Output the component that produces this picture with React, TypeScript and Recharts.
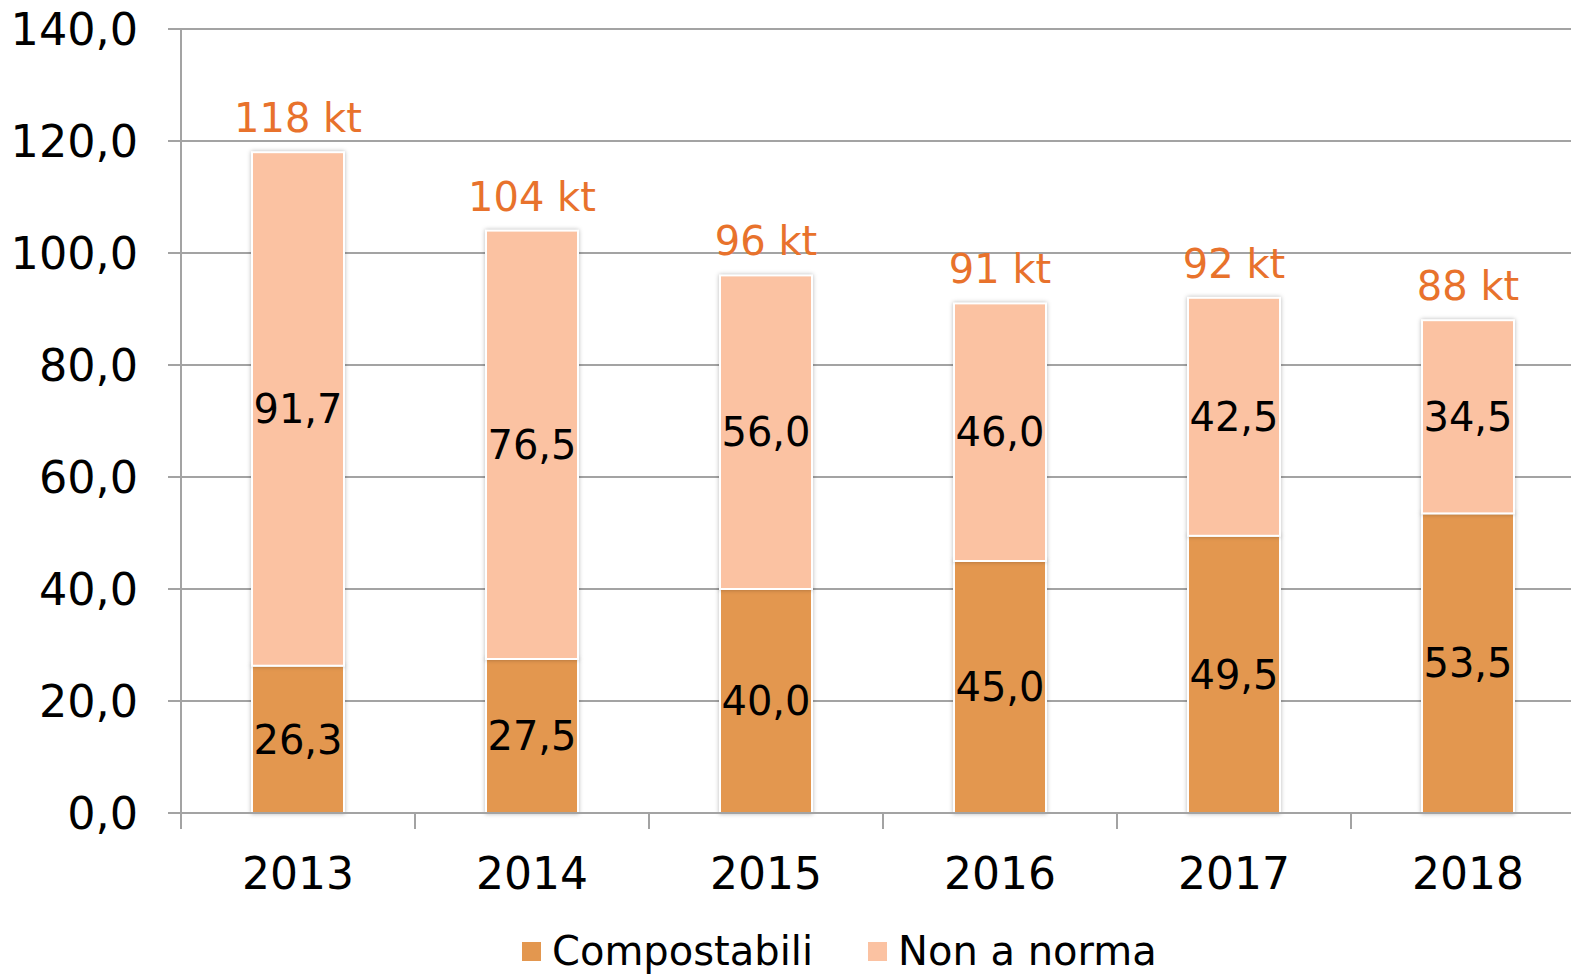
import React from 'react';
import { BarChart, Bar, XAxis, YAxis, CartesianGrid, LabelList } from 'recharts';

// quantities in kt, 2013-2018
const YEARS = ['2013', '2014', '2015', '2016', '2017', '2018'];
const COMPOSTABILI = [26.3, 27.5, 40.0, 45.0, 49.5, 53.5];
const NON_A_NORMA = [91.7, 76.5, 56.0, 46.0, 42.5, 34.5];
const TOTALS = [118, 104, 96, 91, 92, 88];
const Y_TICKS = [0, 20, 40, 60, 80, 100, 120, 140];

const FONT = '"DejaVu Sans", Verdana, sans-serif';
const DARK = '#E3974F';
const LIGHT = '#FBC2A2';
const LABEL_ORANGE = '#E8722C';
const GRID = '#a3a3a3';

const CHART_W = 1600;
const CHART_H = 974;
const Y_AXIS_W = 181;
const MARGIN = { top: 29, right: 15, left: 0, bottom: 0 };
const HALF_BAND = (CHART_W - Y_AXIS_W - MARGIN.right) / YEARS.length / 2;

const data = YEARS.map((year, i) => ({
  year,
  compostabili: COMPOSTABILI[i],
  nonNorma: NON_A_NORMA[i],
  total: TOTALS[i],
}));

const fmt = (v: number) => v.toFixed(1).replace('.', ',');

const BarShape = (props: any) => {
  const { x, y, width, height, fill } = props;
  return (
    <rect
      x={x}
      y={y}
      width={width}
      height={height}
      fill={fill}
      stroke="#fff"
      strokeWidth={2}
      style={{ filter: 'drop-shadow(0 0 2px rgba(0,0,0,0.28))' }}
    />
  );
};

const XTick = (props: any) => {
  const { x, y, payload } = props;
  return (
    <g>
      <line x1={x - HALF_BAND} y1={y} x2={x - HALF_BAND} y2={y + 16} stroke={GRID} strokeWidth={2} />
      <text x={x} y={y + 76} textAnchor="middle" fontSize={44} fontFamily={FONT} fill="#000">
        {payload.value}
      </text>
    </g>
  );
};

export default function App() {
  return (
    <div style={{ position: 'relative', width: 1571, height: 974, overflow: 'hidden', background: '#fff' }}>
      <style>{'body{margin:0}'}</style>
      <BarChart width={CHART_W} height={CHART_H} data={data} margin={MARGIN} barSize={92}>
        <CartesianGrid vertical={false} stroke={GRID} strokeWidth={2} />
        <XAxis
          dataKey="year"
          height={161}
          axisLine={{ stroke: GRID, strokeWidth: 2 }}
          tickLine={false}
          tickSize={0}
          tickMargin={0}
          tick={<XTick />}
          interval={0}
        />
        <YAxis
          width={Y_AXIS_W}
          domain={[0, 140]}
          ticks={Y_TICKS}
          tickFormatter={fmt}
          axisLine={{ stroke: GRID, strokeWidth: 2 }}
          tickLine={{ stroke: GRID, strokeWidth: 2 }}
          tickSize={13}
          tickMargin={30}
          tick={{ fontSize: 44.5, fill: '#000', fontFamily: FONT }}
        />
        <Bar dataKey="compostabili" stackId="a" fill={DARK} shape={BarShape} isAnimationActive={false}>
          <LabelList dataKey="compostabili" position="center" formatter={(v: any) => fmt(Number(v))}
            fill="#000" fontSize={40} fontFamily={FONT} />
        </Bar>
        <Bar dataKey="nonNorma" stackId="a" fill={LIGHT} shape={BarShape} isAnimationActive={false}>
          <LabelList dataKey="nonNorma" position="center" formatter={(v: any) => fmt(Number(v))}
            fill="#000" fontSize={40} fontFamily={FONT} />
          <LabelList dataKey="total" position="top" offset={20} formatter={(v: any) => `${v} kt`}
            fill={LABEL_ORANGE} fontSize={40} fontFamily={FONT} />
        </Bar>
      </BarChart>
      <div style={{ position: 'absolute', left: 522, top: 928, display: 'flex', alignItems: 'center',
        fontFamily: FONT, fontSize: 40, color: '#000', whiteSpace: 'nowrap' }}>
        <span style={{ width: 19, height: 19, background: DARK, marginRight: 11, display: 'inline-block' }} />
        <span>Compostabili</span>
        <span style={{ width: 19, height: 19, background: LIGHT, marginLeft: 55, marginRight: 11, display: 'inline-block' }} />
        <span>Non a norma</span>
      </div>
    </div>
  );
}
